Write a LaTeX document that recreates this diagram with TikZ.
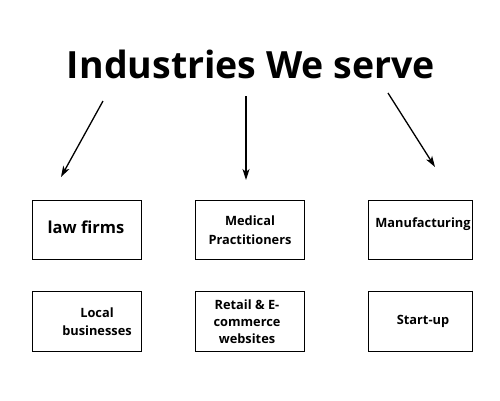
\documentclass[tikz,border=0pt]{standalone}
\usepackage{fontspec}
\setmainfont[Ligatures=NoCommon]{Open Sans}
\usepackage{tikz}
\usetikzlibrary{arrows.meta, positioning, calc}

\begin{document}
\begin{tikzpicture}[x=1pt, y=-1pt, >={Stealth[length=11pt, width=7pt, inset=3pt]},
    every node/.style={inner sep=0pt, font=\bfseries},
    sector/.style={draw, line width=0.9pt, minimum width=109pt, minimum height=59pt},
    tag/.style={align=center, font=\bfseries\fontsize{12.8}{18}\selectfont},
    pointer/.style={->, line width=1.3pt}]
    \useasboundingbox (0,0) rectangle (500,400);

    % Title (x=250, y=62)
    \node (title) at (251, 64) {\fontsize{37.5}{42}\selectfont Industries We serve};

    % First row of boxes
    \node[sector] (law) at (86.5, 229.5) {};
    \node[tag, font=\bfseries\fontsize{16.5}{18}\selectfont] (lawtxt) at (86, 227) {law firms};
    \node[sector] (med) at (249.5, 229.5) {};
    \node[tag, font=\bfseries\fontsize{12.8}{19}\selectfont] (medtxt) at (250, 230.5) {Medical\\Practitioners};
    \node[sector, minimum width=104pt] (man) at (420, 229.5) {};
    \node[tag] (mantxt) at (423, 224) {Manufacturing};

    % Second row of boxes
    \node[sector, minimum height=60pt] (loc) at (86.5, 321) {};
    \node[tag] (loctxt) at (97, 321.5) {Local\\businesses};
    \node[sector, minimum height=60pt] (ret) at (249.5, 321) {};
    \node[tag, font=\bfseries\fontsize{12.8}{17}\selectfont] (rettxt) at (247, 322) {Retail \& E-\\commerce\\websites};
    \node[sector, minimum width=104pt, minimum height=60pt] (sta) at (420, 321) {};
    \node[tag] (statxt) at (423, 321.5) {Start-up};

    % Arrows
    \coordinate (a1) at (103, 101);
    \coordinate (b1) at (61, 177);
    \coordinate (a2) at (246, 96);
    \coordinate (b2) at (246, 180);
    \coordinate (a3) at (388, 93);
    \coordinate (b3) at (435, 167);
    \draw[pointer] (a1) -- (b1);
    \draw[pointer] (a2) -- (b2);
    \draw[pointer] (a3) -- (b3);
\end{tikzpicture}
\end{document}
